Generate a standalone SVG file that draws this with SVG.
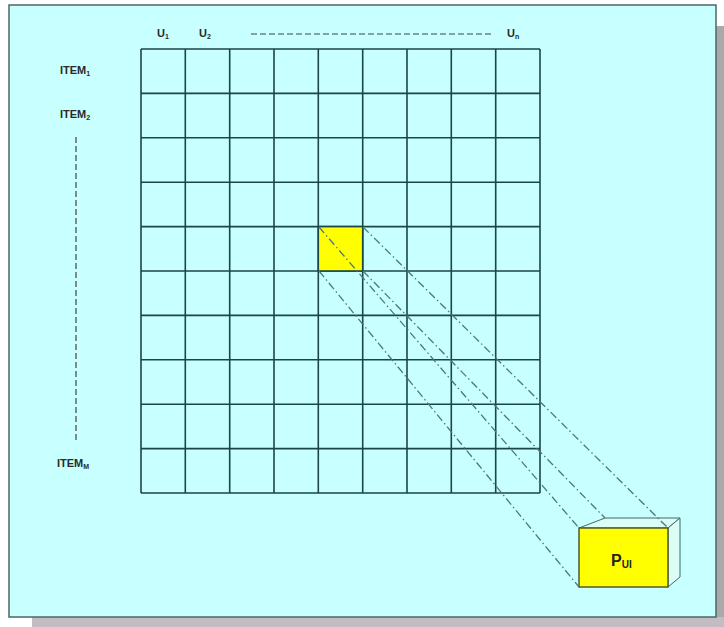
<svg xmlns="http://www.w3.org/2000/svg" width="724" height="627" viewBox="0 0 724 627">
<defs>
<style>
.lbl{font-family:"Liberation Sans",Arial,sans-serif;font-weight:bold;font-size:11px;fill:#2a2a2a}
.sub{font-size:7px}
.grid line{stroke:#1b4646;stroke-width:1.6}
.proj{stroke:#4d7878;stroke-width:1.3;stroke-dasharray:8,3,1.5,3;fill:none}
.dash{stroke:#444;stroke-width:1.2;stroke-dasharray:6,3;fill:none}
</style>
</defs>
<g id="background">
<rect x="716" y="26" width="8" height="601" fill="#a9a9a9"/>
<rect x="32" y="617" width="692" height="10" fill="#c3bcc3"/>
<rect x="9" y="5" width="707" height="612" fill="#c8ffff" stroke="#4e6565" stroke-width="1.5"/>
</g>
<g id="grid" class="grid">
<line x1="141" y1="49" x2="540" y2="49"/>
<line x1="141" y1="93.4" x2="540" y2="93.4"/>
<line x1="141" y1="137.8" x2="540" y2="137.8"/>
<line x1="141" y1="182.2" x2="540" y2="182.2"/>
<line x1="141" y1="226.6" x2="540" y2="226.6"/>
<line x1="141" y1="271" x2="540" y2="271"/>
<line x1="141" y1="315.4" x2="540" y2="315.4"/>
<line x1="141" y1="359.8" x2="540" y2="359.8"/>
<line x1="141" y1="404.2" x2="540" y2="404.2"/>
<line x1="141" y1="448.6" x2="540" y2="448.6"/>
<line x1="141" y1="493" x2="540" y2="493"/>
<line x1="141" y1="49" x2="141" y2="493"/>
<line x1="185.3" y1="49" x2="185.3" y2="493"/>
<line x1="229.7" y1="49" x2="229.7" y2="493"/>
<line x1="274" y1="49" x2="274" y2="493"/>
<line x1="318.3" y1="49" x2="318.3" y2="493"/>
<line x1="362.7" y1="49" x2="362.7" y2="493"/>
<line x1="407" y1="49" x2="407" y2="493"/>
<line x1="451.3" y1="49" x2="451.3" y2="493"/>
<line x1="495.7" y1="49" x2="495.7" y2="493"/>
<line x1="540" y1="49" x2="540" y2="493"/>
</g>
<g id="cell">
<rect x="318.3" y="226.6" width="44.4" height="44.4" fill="#ffff00" stroke="#1b4646" stroke-width="1.6"/>
</g>
<g id="box">
<polygon points="579,528 605,518 680,518 668,528" fill="#dcfcf6" stroke="#3d6a6a" stroke-width="1"/>
<polygon points="668,528 680,518 680,577 668,587" fill="#dcfcf6" stroke="#3d6a6a" stroke-width="1"/>
<rect x="579" y="528" width="89" height="59" fill="#ffff00" stroke="#4f5a2a" stroke-width="1.5"/>
<text x="611" y="566" class="lbl" style="font-size:16px;fill:#222">P<tspan style="font-size:10px" dy="2">UI</tspan></text>
</g>
<g id="connectors">
<line class="proj" x1="319" y1="227" x2="579" y2="528"/>
<line class="proj" x1="363" y1="227" x2="668" y2="528"/>
<line class="proj" x1="319" y1="271" x2="579" y2="587"/>
<line class="proj" x1="363" y1="271" x2="605" y2="518"/>
</g>
<g id="labels">
<text class="lbl" x="157" y="37">U<tspan class="sub" dy="2">1</tspan></text>
<text class="lbl" x="199" y="37">U<tspan class="sub" dy="2">2</tspan></text>
<line class="dash" x1="251" y1="34" x2="493" y2="34"/>
<text class="lbl" x="507" y="37">U<tspan class="sub" dy="2">n</tspan></text>
<text class="lbl" x="60" y="74">ITEM<tspan class="sub" dy="2">1</tspan></text>
<text class="lbl" x="60" y="118">ITEM<tspan class="sub" dy="2">2</tspan></text>
<line class="dash" x1="76" y1="137" x2="76" y2="442"/>
<text class="lbl" x="57" y="467">ITEM<tspan class="sub" dy="2">M</tspan></text>
</g>
</svg>
